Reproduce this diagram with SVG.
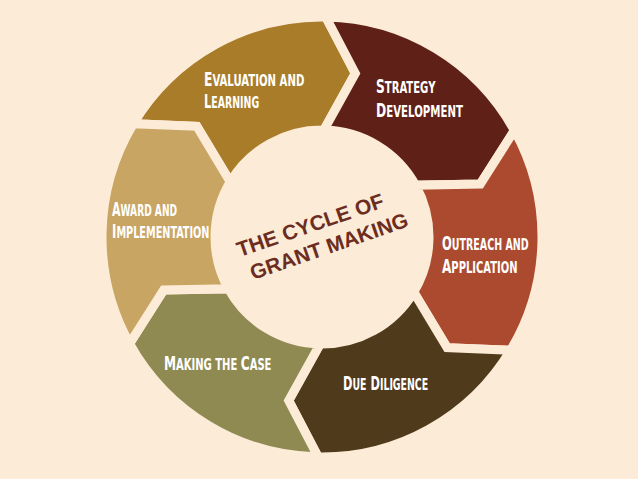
<svg xmlns="http://www.w3.org/2000/svg" width="638" height="479" viewBox="0 0 638 479">
<style>
.seg{stroke:#FCEBD6;stroke-width:9;stroke-linejoin:miter}
.lbl{font-family:"Liberation Sans Narrow","DejaVu Sans Condensed","Liberation Sans",sans-serif;font-weight:bold;font-size:20px;fill:#FFFFFF}
.sc{font-size:16.5px}
.title{font-family:"Liberation Sans",Arial,sans-serif;font-weight:bold;font-size:21px;fill:#6B2D22;text-anchor:middle}
</style>
<rect width="638" height="479" fill="#FCEBD6"/>
<g id="evaluation">
<path class="seg" fill="#A97C2A" d="M 133.42 123.69 A 220 220 0 0 1 325.84 17.03 L 355.29 73.35 L 323.87 130.02 A 107 107 0 0 0 230.28 181.89 L 196.92 126.34 Z"/>
<text class="lbl" transform="translate(204,86) scale(0.684,1)">E<tspan class="sc">VALUATION AND</tspan></text>
<text class="lbl" transform="translate(204,108) scale(0.634,1)">L<tspan class="sc">EARNING</tspan></text>
</g>
<g id="strategy">
<path class="seg" fill="#5F2017" d="M 325.84 17.03 A 220 220 0 0 1 514.42 130.34 L 480.37 184.01 L 415.58 185.13 A 107 107 0 0 0 323.87 130.02 L 355.29 73.35 Z"/>
<text class="lbl" transform="translate(376,93) scale(0.679,1)">S<tspan class="sc">TRATEGY</tspan></text>
<text class="lbl" transform="translate(376,117) scale(0.687,1)">D<tspan class="sc">EVELOPMENT</tspan></text>
</g>
<g id="outreach">
<path class="seg" fill="#AC4A2F" d="M 514.42 130.34 A 220 220 0 0 1 510.58 350.31 L 447.08 347.66 L 413.72 292.11 A 107 107 0 0 0 415.58 185.13 L 480.37 184.01 Z"/>
<text class="lbl" transform="translate(442,250) scale(0.641,1)">O<tspan class="sc">UTREACH AND</tspan></text>
<text class="lbl" transform="translate(442,273) scale(0.672,1)">A<tspan class="sc">PPLICATION</tspan></text>
</g>
<g id="due-diligence">
<path class="seg" fill="#503A1C" d="M 510.58 350.31 A 220 220 0 0 1 318.16 456.97 L 288.71 400.65 L 320.13 343.98 A 107 107 0 0 0 413.72 292.11 L 447.08 347.66 Z"/>
<text class="lbl" transform="translate(343,390) scale(0.633,1)">D<tspan class="sc">UE</tspan> D<tspan class="sc">ILIGENCE</tspan></text>
</g>
<g id="making-the-case">
<path class="seg" fill="#8E8A52" d="M 318.16 456.97 A 220 220 0 0 1 129.58 343.66 L 163.63 289.99 L 228.42 288.87 A 107 107 0 0 0 320.13 343.98 L 288.71 400.65 Z"/>
<text class="lbl" transform="translate(164,370) scale(0.674,1)">M<tspan class="sc">AKING THE </tspan>C<tspan class="sc">ASE</tspan></text>
</g>
<g id="award">
<path class="seg" fill="#C9A563" d="M 129.58 343.66 A 220 220 0 0 1 133.42 123.69 L 196.92 126.34 L 230.28 181.89 A 107 107 0 0 0 228.42 288.87 L 163.63 289.99 Z"/>
<text class="lbl" transform="translate(112,216) scale(0.613,1)">A<tspan class="sc">WARD AND</tspan></text>
<text class="lbl" transform="translate(112,238) scale(0.654,1)">I<tspan class="sc">MPLEMENTATION</tspan></text>
</g>
<g id="center">
<g transform="translate(312.5,232) rotate(-19)">
<text class="title" x="0" y="0">THE CYCLE OF</text>
<text class="title" x="11" y="26">GRANT MAKING</text>
</g>
</g>
<g id="connectors"/>
</svg>
